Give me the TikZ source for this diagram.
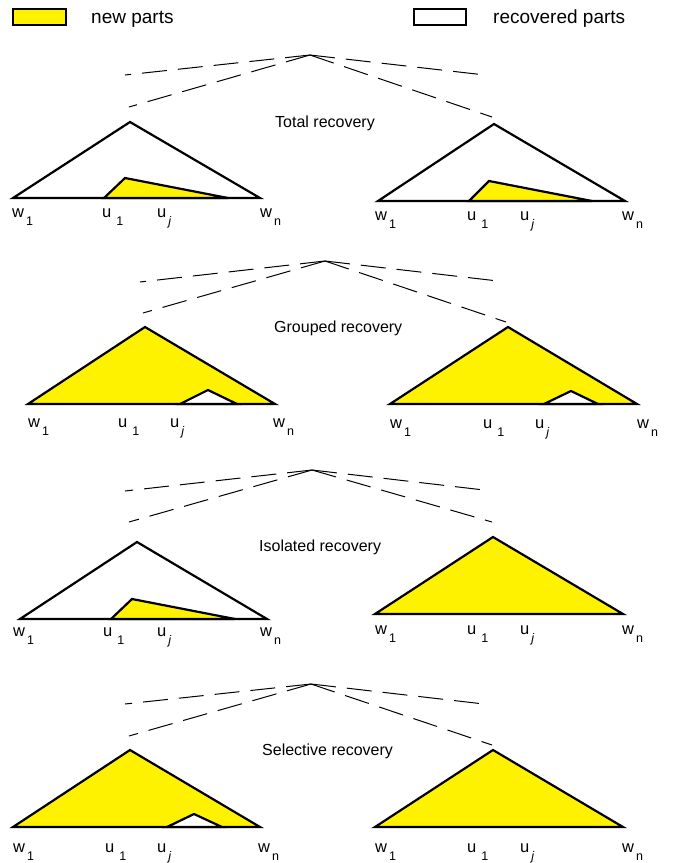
\documentclass[tikz,border=0pt]{standalone}
\usepackage{fontspec}
\setmainfont{Liberation Sans}
\usepackage{tikz}

% subscript set lower and smaller, as in the labels w 1, u 1, u j, w n
\newcommand{\lsub}[1]{\hspace{2pt}\raisebox{-8pt}{\fontsize{12.5}{14}\selectfont #1}}

\begin{document}
\begin{tikzpicture}[x=1pt,y=-1pt,
    tri/.style={draw=black,line width=2.2pt},
    cutline/.style={dash pattern=on 25pt off 11pt,line width=1pt},
    lbl/.style={anchor=base west,inner sep=0pt,font=\fontsize{16.5}{19}\selectfont},
    panelname/.style={anchor=base west,inner sep=0pt,font=\fontsize{16}{19}\selectfont},
    legendtext/.style={anchor=base west,inner sep=0pt,font=\fontsize{19}{23}\selectfont}]
        \useasboundingbox (0,0) rectangle (675,863);

        % --- legend ---
        \draw[fill=yellow,line width=1.5pt] (13,9) rectangle (66,25);
        \node[legendtext] (newtxt) at (91,23.6) {new parts};
        \draw[fill=white,line width=1.5pt] (414,9) rectangle (466,25);
        \node[legendtext] (rectxt) at (493,23.6) {recovered parts};

        % --- Total recovery ---
        \coordinate (top1) at (310,55);
        \draw[cutline] (top1) -- (125,75);
        \draw[cutline] (top1) -- (129,107);
        \draw[cutline] (top1) -- (485,75);
        \draw[cutline] (top1) -- (492,117);
        \node[panelname] (total) at (275,127) {Total recovery};

        % left tree
        \draw[tri,fill=white] (13,198) -- (130,122) -- (260,198) -- cycle;
        \draw[tri,fill=yellow] (104,198) -- (125,178) -- (228,198) -- cycle;
        \node[lbl] (w1a) at (12,217) {w\lsub{1}};
        \node[lbl] (u1a) at (102,217) {u\hspace{3pt}\lsub{1}};
        \node[lbl] (uja) at (157,217) {u\lsub{\textit{j}}};
        \node[lbl] (wna) at (260,217) {w\lsub{n}};

        % right tree
        \draw[tri,fill=white] (378,201) -- (494,124) -- (625,201) -- cycle;
        \draw[tri,fill=yellow] (469,201) -- (489,181) -- (592,201) -- cycle;
        \node[lbl] (w1b) at (375,220) {w\lsub{1}};
        \node[lbl] (u1b) at (467,220) {u\hspace{3pt}\lsub{1}};
        \node[lbl] (ujb) at (520,220) {u\lsub{\textit{j}}};
        \node[lbl] (wnb) at (622,220) {w\lsub{n}};

        % --- Grouped recovery ---
        \coordinate (top2) at (325,261);
        \draw[cutline] (top2) -- (140,282);
        \draw[cutline] (top2) -- (143,313);
        \draw[cutline] (top2) -- (498,281);
        \draw[cutline] (top2) -- (506,322);
        \node[panelname] (grouped) at (274,332) {Grouped recovery};

        % left tree
        \draw[tri,fill=yellow] (28,404) -- (145,327) -- (275,404) -- cycle;
        \draw[tri,fill=white] (180,404) -- (208,390) -- (237,404) -- cycle;
        \node[lbl] (w1c) at (28,427) {w\lsub{1}};
        \node[lbl] (u1c) at (118,427) {u\hspace{3pt}\lsub{1}};
        \node[lbl] (ujc) at (170,427) {u\lsub{\textit{j}}};
        \node[lbl] (wnc) at (273,427) {w\lsub{n}};

        % right tree
        \draw[tri,fill=yellow] (390,404) -- (508,327) -- (637,404) -- cycle;
        \draw[tri,fill=white] (544,404) -- (571,391) -- (598,404) -- cycle;
        \node[lbl] (w1d) at (390,428) {w\lsub{1}};
        \node[lbl] (u1d) at (483,428) {u\hspace{3pt}\lsub{1}};
        \node[lbl] (ujd) at (535,428) {u\lsub{\textit{j}}};
        \node[lbl] (wnd) at (637,428) {w\lsub{n}};

        % --- Isolated recovery ---
        \coordinate (top3) at (312,470);
        \draw[cutline] (top3) -- (125,491);
        \draw[cutline] (top3) -- (129,522);
        \draw[cutline] (top3) -- (484,490);
        \draw[cutline] (top3) -- (492,522);
        \node[panelname] (isolated) at (259,551) {Isolated recovery};

        % left tree
        \draw[tri,fill=white] (20,619) -- (137,542) -- (267,619) -- cycle;
        \draw[tri,fill=yellow] (111,619) -- (132,599) -- (235,619) -- cycle;
        \node[lbl] (w1e) at (13,636) {w\lsub{1}};
        \node[lbl] (u1e) at (103,636) {u\hspace{3pt}\lsub{1}};
        \node[lbl] (uje) at (157,636) {u\lsub{\textit{j}}};
        \node[lbl] (wne) at (260,636) {w\lsub{n}};

        % right tree
        \draw[tri,fill=yellow] (375,614) -- (493,537) -- (623,614) -- cycle;
        \node[lbl] (w1f) at (375,634) {w\lsub{1}};
        \node[lbl] (u1f) at (467,634) {u\hspace{3pt}\lsub{1}};
        \node[lbl] (ujf) at (520,634) {u\lsub{\textit{j}}};
        \node[lbl] (wnf) at (622,634) {w\lsub{n}};

        % --- Selective recovery ---
        \coordinate (top4) at (311,684);
        \draw[cutline] (top4) -- (125,704);
        \draw[cutline] (top4) -- (129,736);
        \draw[cutline] (top4) -- (484,704);
        \draw[cutline] (top4) -- (492,745);
        \node[panelname] (selective) at (262,755) {Selective recovery};

        % left tree
        \draw[tri,fill=yellow] (13,827) -- (130,750) -- (260,827) -- cycle;
        \draw[tri,fill=white] (167,827) -- (194,814) -- (222,827) -- cycle;
        \node[lbl] (w1g) at (13,852) {w\lsub{1}};
        \node[lbl] (u1g) at (105,852) {u\hspace{3pt}\lsub{1}};
        \node[lbl] (ujg) at (157,852) {u\lsub{\textit{j}}};
        \node[lbl] (wng) at (258,852) {w\lsub{n}};

        % right tree
        \draw[tri,fill=yellow] (375,827) -- (493,750) -- (623,827) -- cycle;
        \node[lbl] (w1h) at (375,852) {w\lsub{1}};
        \node[lbl] (u1h) at (467,852) {u\hspace{3pt}\lsub{1}};
        \node[lbl] (ujh) at (520,852) {u\lsub{\textit{j}}};
        \node[lbl] (wnh) at (622,852) {w\lsub{n}};
      \end{tikzpicture}
\end{document}
